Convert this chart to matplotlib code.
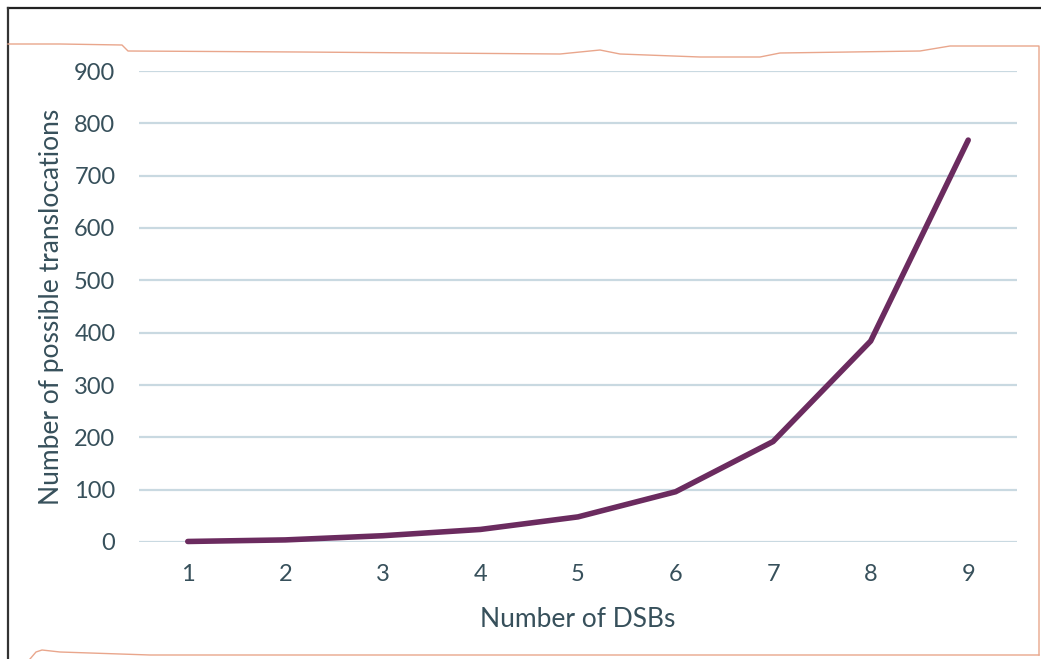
import matplotlib
matplotlib.use("Agg")
import matplotlib.pyplot as plt
from matplotlib.lines import Line2D

# data
dsbs = [1, 2, 3, 4, 5, 6, 7, 8, 9]
translocations = [1, 4, 12, 24, 48, 96, 192, 384, 768]
yticks = [0, 100, 200, 300, 400, 500, 600, 700, 800, 900]

line_col = "#6b2b5f"
grid_col = "#c9d9e1"
text_col = "#37505b"
edge_col = "#e9a68c"

plt.rcParams['font.family'] = ['Lato', 'DejaVu Sans']

W, H = 1041, 659
fig = plt.figure(figsize=(W / 100, H / 100), dpi=100)
ax = fig.add_axes([139 / W, 1 - 542 / H, (1017 - 139) / W, (542 - 71) / H])

ax.plot(dsbs, translocations, color=line_col, lw=4.0,
        solid_joinstyle='round', solid_capstyle='round', clip_on=False, zorder=3)

ax.set_xlim(0.5, 9.5)
ax.set_ylim(0, 900)
ax.set_xticks(dsbs)
ax.set_yticks(yticks)
ax.grid(axis='y', color=grid_col, lw=1.6)
ax.set_axisbelow(True)
for s in ax.spines.values():
    s.set_visible(False)
ax.tick_params(length=0, labelsize=17, colors=text_col)
ax.tick_params(axis='y', pad=17)
ax.tick_params(axis='x', pad=16)

ax.set_xlabel("Number of DSBs", fontsize=19, color=text_col, labelpad=16)
ax.set_ylabel("Number of possible translocations", fontsize=19, color=text_col, labelpad=7)

# scanned page edges: black frame and torn reddish border
def px_line(xs, ys, **kw):
    fig.lines.append(Line2D([x / W for x in xs], [1 - y / H for y in ys],
                            transform=fig.transFigure, **kw))

px_line([8, 1041], [8, 8], color="#222222", lw=1.6)
px_line([8, 8], [8, 659], color="#333333", lw=1.6)
px_line([8, 60, 122, 128, 300, 560, 600, 620, 700, 760, 780, 920, 950, 1039, 1039],
        [44, 44, 45, 51, 52, 54, 50, 54, 57, 57, 53, 51, 46, 46, 655],
        color=edge_col, lw=1.0)
px_line([30, 36, 42, 60, 150, 1039], [659, 652, 650, 652, 655, 655],
        color=edge_col, lw=1.0)

fig.savefig("out.png", dpi=100)
